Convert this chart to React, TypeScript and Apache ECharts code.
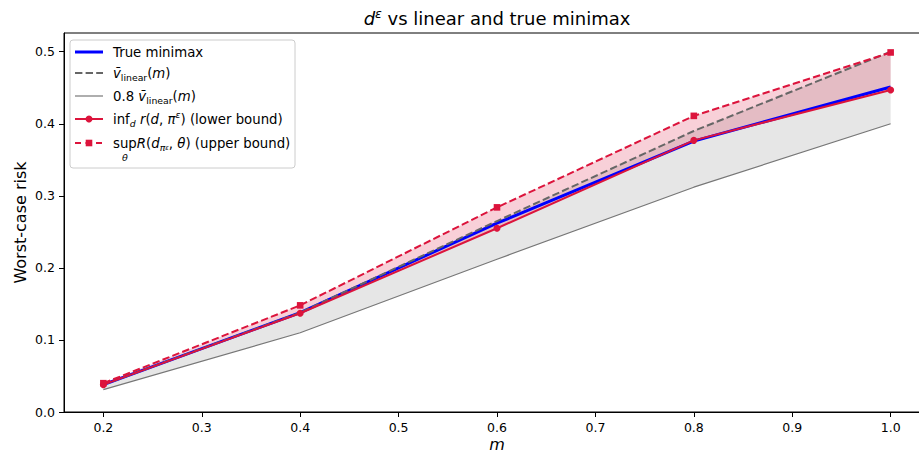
import React, { useEffect, useRef } from 'react';
import * as echarts from 'echarts';

// ---- data ----
const mValues = [0.2, 0.4, 0.6, 0.8, 1.0];
const trueMinimax = [0.038, 0.138, 0.262, 0.376, 0.451];
const vLinear = [0.038, 0.138, 0.265, 0.39, 0.5];
const vLinear08 = [0.031, 0.11, 0.212, 0.312, 0.4];
const lowerBound = [0.038, 0.137, 0.255, 0.377, 0.447];
const upperBound = [0.04, 0.148, 0.284, 0.411, 0.499];
const xTicks = [0.2, 0.3, 0.4, 0.5, 0.6, 0.7, 0.8, 0.9, 1.0];
const yTicks = [0.0, 0.1, 0.2, 0.3, 0.4, 0.5];

const CRIMSON = '#dc143c';
const FONT = 'DejaVu Sans';

const pts = (ys: number[]) => mValues.map((m, i) => [m, ys[i]]);

const rich = (size: number) => ({
  n: { fontFamily: FONT, fontSize: size, lineHeight: size + 4, fill: '#000', color: '#000' },
  it: { fontFamily: FONT, fontStyle: 'italic', fontSize: size, lineHeight: size + 4, fill: '#000', color: '#000' },
  sub: { fontFamily: FONT, fontSize: size * 0.7, lineHeight: size * 0.7, verticalAlign: 'bottom', fill: '#000', color: '#000' },
  subit: { fontFamily: FONT, fontStyle: 'italic', fontSize: size * 0.7, lineHeight: size * 0.7, verticalAlign: 'bottom', fill: '#000', color: '#000' },
  sup: { fontFamily: FONT, fontStyle: 'italic', fontSize: size * 0.7, lineHeight: size * 0.7, verticalAlign: 'top', fill: '#000', color: '#000' },
  ssub: { fontFamily: FONT, fontStyle: 'italic', fontSize: size * 0.5, lineHeight: size * 0.9, verticalAlign: 'bottom', fill: '#000', color: '#000' },
});

const bandSeries = (low: number[], high: number[], fill: string) => ({
  type: 'custom',
  data: mValues.map((m, i) => [m, low[i], high[i]]),
  encode: { x: 0, y: [1, 2] },
  silent: true,
  z: 1,
  renderItem: (params: any, api: any) => {
    if (params.dataIndex !== 0) return null;
    const top = mValues.map((m, i) => api.coord([m, high[i]]));
    const bot = mValues.map((m, i) => api.coord([m, low[i]])).reverse();
    return { type: 'polygon', shape: { points: [...top, ...bot] }, style: { fill } };
  },
});

export default function App() {
  const ref = useRef<HTMLDivElement>(null);
  useEffect(() => {
    document.body.style.margin = '0';
    if (!ref.current) return;
    const chart = echarts.init(ref.current, undefined, { renderer: 'svg' });

    const legendX1 = 75;
    const legendX2 = 103;
    const legendMid = 89;
    const textX = 113;
    const rows = [52, 73, 96, 119, 143];
    const lr = rich(13.3);

    const graphic: any[] = [
      {
        type: 'text', x: 497, y: 18,
        style: {
          text: '{it|d}{sup|ε}{n| vs linear and true minimax}',
          align: 'center', verticalAlign: 'middle', rich: rich(18),
        },
      },
      {
        type: 'text', x: 20, y: 222.5, rotation: Math.PI / 2,
        style: { text: 'Worst-case risk', fontFamily: FONT, fontSize: 16, fill: '#000', align: 'center', verticalAlign: 'middle' },
      },
      {
        type: 'text', x: 497, y: 444,
        style: { text: 'm', fontFamily: FONT, fontStyle: 'italic', fontSize: 16, fill: '#000', align: 'center', verticalAlign: 'middle' },
      },
      {
        type: 'rect', shape: { x: 70, y: 40, width: 225, height: 128, r: 3 },
        style: { fill: 'rgba(255,255,255,0.8)', stroke: '#cccccc', lineWidth: 1 }, z: 10,
      },
      { type: 'line', shape: { x1: legendX1, y1: rows[0], x2: legendX2, y2: rows[0] }, style: { stroke: '#0000ff', lineWidth: 3 }, z: 11 },
      { type: 'line', shape: { x1: legendX1, y1: rows[1], x2: legendX2, y2: rows[1] }, style: { stroke: '#666666', lineWidth: 2, lineDash: [7.4, 3.2] }, z: 11 },
      { type: 'line', shape: { x1: legendX1, y1: rows[2], x2: legendX2, y2: rows[2] }, style: { stroke: '#777777', lineWidth: 1.2 }, z: 11 },
      { type: 'line', shape: { x1: legendX1, y1: rows[3], x2: legendX2, y2: rows[3] }, style: { stroke: CRIMSON, lineWidth: 2 }, z: 11 },
      { type: 'circle', shape: { cx: legendMid, cy: rows[3], r: 3.5 }, style: { fill: CRIMSON }, z: 12 },
      { type: 'line', shape: { x1: legendX1, y1: rows[4], x2: legendX2, y2: rows[4] }, style: { stroke: CRIMSON, lineWidth: 2, lineDash: [6, 4.5] }, z: 11 },
      { type: 'rect', shape: { x: legendMid - 3.3, y: rows[4] - 3.3, width: 6.6, height: 6.6 }, style: { fill: CRIMSON }, z: 12 },
      { type: 'text', x: textX, y: rows[0], z: 12, style: { text: '{n|True minimax}', rich: lr, verticalAlign: 'middle', align: 'left' } },
      { type: 'text', x: textX, y: rows[1], z: 12, style: { text: '{it|v̄}{sub|linear}{n|(}{it|m}{n|)}', rich: lr, verticalAlign: 'middle', align: 'left' } },
      { type: 'text', x: textX, y: rows[2], z: 12, style: { text: '{n|0.8 }{it|v̄}{sub|linear}{n|(}{it|m}{n|)}', rich: lr, verticalAlign: 'middle', align: 'left' } },
      { type: 'text', x: textX, y: rows[3], z: 12, style: { text: '{n|inf}{subit|d}{n| }{it|r}{n|(}{it|d}{n|, }{it|π}{sup|ε}{n|) (lower bound)}', rich: lr, verticalAlign: 'middle', align: 'left' } },
      { type: 'text', x: textX, y: rows[4], z: 12, style: { text: '{n|sup}{it|R}{n|(}{it|d}{subit|π}{ssub|ε}{n|, }{it|θ}{n|) (upper bound)}', rich: lr, verticalAlign: 'middle', align: 'left' } },
      { type: 'text', x: 125, y: 157, z: 12, style: { text: 'θ', fontFamily: FONT, fontStyle: 'italic', fontSize: 9.5, fill: '#000', align: 'center', verticalAlign: 'middle' } },
    ];

    chart.setOption({
      animation: false,
      backgroundColor: '#ffffff',
      grid: {
        left: 64, top: 33, width: 866, height: 379,
        show: true, borderColor: '#000', borderWidth: 1, backgroundColor: 'transparent',
        containLabel: false, outerBoundsMode: 'none',
      },
      xAxis: {
        type: 'value', min: 0.16, max: 1.04,
        axisLine: { show: true, lineStyle: { color: '#000', width: 1 } },
        axisTick: { show: true, length: 5, customValues: xTicks, lineStyle: { color: '#000', width: 1 } },
        axisLabel: { customValues: xTicks, formatter: (v: number) => v.toFixed(1), fontFamily: FONT, fontSize: 12.5, color: '#000', margin: 9 },
        splitLine: { show: false },
      },
      yAxis: {
        type: 'value', min: 0, max: 0.526,
        axisLine: { show: true, lineStyle: { color: '#000', width: 1 } },
        axisTick: { show: true, length: 5, customValues: yTicks, lineStyle: { color: '#000', width: 1 } },
        axisLabel: { customValues: yTicks, formatter: (v: number) => v.toFixed(1), fontFamily: FONT, fontSize: 12.5, color: '#000', margin: 9 },
        splitLine: { show: false },
      },
      graphic,
      series: [
        bandSeries(vLinear08, vLinear, 'rgba(128,128,128,0.2)'),
        bandSeries(lowerBound, upperBound, 'rgba(220,20,60,0.2)'),
        { name: 'True minimax', type: 'line', data: pts(trueMinimax), symbol: 'none', lineStyle: { color: '#0000ff', width: 3 }, z: 2 },
        { name: 'v_linear(m)', type: 'line', data: pts(vLinear), symbol: 'none', lineStyle: { color: '#666666', width: 2, type: [7.4, 3.2] }, z: 2 },
        { name: '0.8 v_linear(m)', type: 'line', data: pts(vLinear08), symbol: 'none', lineStyle: { color: '#777777', width: 1.2 }, z: 2 },
        { name: 'lower bound', type: 'line', data: pts(lowerBound), symbol: 'circle', symbolSize: 7, itemStyle: { color: CRIMSON, borderWidth: 0 }, lineStyle: { color: CRIMSON, width: 2 }, z: 3 },
        { name: 'upper bound', type: 'line', data: pts(upperBound), symbol: 'rect', symbolSize: 6.6, itemStyle: { color: CRIMSON, borderWidth: 0 }, lineStyle: { color: CRIMSON, width: 2, type: [7.4, 3.2] }, z: 3 },
      ],
    });
    return () => chart.dispose();
  }, []);
  return <div ref={ref} style={{ position: 'absolute', left: 0, top: 0, width: 919, height: 452 }} />;
}
